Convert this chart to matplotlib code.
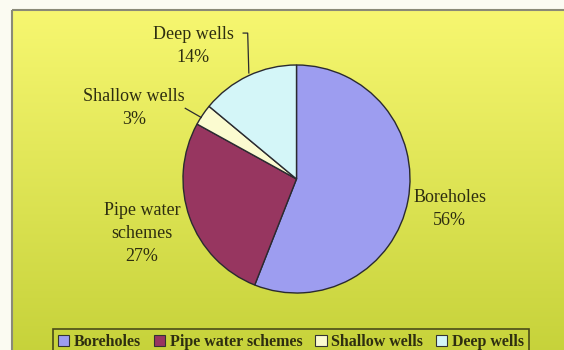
import numpy as np
import matplotlib
matplotlib.use("Agg")
from matplotlib import pyplot as plt
from matplotlib.patches import Rectangle, Patch

# data
sources = ['Boreholes', 'Pipe water schemes', 'Shallow wells', 'Deep wells']
shares = [56, 27, 3, 14]
slice_labels = ['Boreholes\n56%', 'Pipe water\nschemes\n27%', 'Shallow wells\n3%', 'Deep wells\n14%']
colors = ['#9d9df0', '#973660', '#fbfbd0', '#d4f6f8']

plt.rcParams['font.family'] = ['Liberation Serif', 'DejaVu Serif']
txt_col = '#2e2e10'

W, H = 564, 350
fig = plt.figure(figsize=(W / 100, H / 100), dpi=100)
fig.patch.set_facecolor('#fbfbf2')

# background: yellow gradient inside the chart frame
bg = fig.add_axes([0, 0, 1, 1])
bg.set_xlim(0, W)
bg.set_ylim(H, 0)
bg.axis('off')
top = np.array([247, 247, 112]) / 255.
bot = np.array([198, 210, 58]) / 255.
t = np.linspace(0, 1, 200)[:, None, None]
grad = top * (1 - t) + bot * t
grad = np.repeat(grad, 2, axis=1)
bg.imshow(grad, extent=(12, W + 5, H + 5, 10), aspect='auto', zorder=0)
bg.add_patch(Rectangle((12, 10), W, H, fill=False, ec='#8a8a78', lw=1.5, zorder=1))

# pie on gray plot area
ax = fig.add_axes([183 / W, 1 - 293 / H, 227 / W, 228 / H])
ax.set_facecolor('#c9c9c2')
for s in ax.spines.values():
    s.set_visible(False)
ax.set_xticks([])
ax.set_yticks([])
ax.pie(shares, colors=colors, startangle=90, counterclock=False, radius=1.0,
       wedgeprops=dict(edgecolor='#2a2a30', linewidth=1.0))
ax.set_xlim(-1.0, 1.0)
ax.set_ylim(-1.0, 1.0)
ax.set_aspect('auto')

# slice labels (positions in axes data units)
label_pos = [(1.35, -0.26), (-1.36, -0.48), (-1.43, 0.62), (-0.91, 1.17)]
for lab, (x, y) in zip(slice_labels, label_pos):
    ax.text(x, y, lab, ha='center', va='center', fontsize=13, color=txt_col,
            linespacing=1.45, clip_on=False)

# leader lines
ax.plot([-0.47, -0.43, -0.42], [1.28, 1.28, 0.93], color='#2a2a30', lw=0.9, clip_on=False)
ax.plot([-0.98, -0.84], [0.62, 0.54], color='#2a2a30', lw=0.9, clip_on=False)

handles = [Patch(facecolor=c, edgecolor='#333333', lw=0.8) for c in colors]
leg = fig.legend(handles, sources, loc='upper center', bbox_to_anchor=(291 / W, 1 - 321 / H),
                 ncol=4, frameon=True, fancybox=False, handlelength=0.7, handleheight=0.7,
                 handletextpad=0.3, columnspacing=0.8, borderpad=0.3,
                 prop=dict(family='Liberation Serif', weight='bold', size=11.5))
leg.get_frame().set_edgecolor('#2a2a10')
leg.get_frame().set_facecolor('none')
leg.get_frame().set_linewidth(1.2)
for tx in leg.get_texts():
    tx.set_color(txt_col)

fig.savefig('out.png', dpi=100)
